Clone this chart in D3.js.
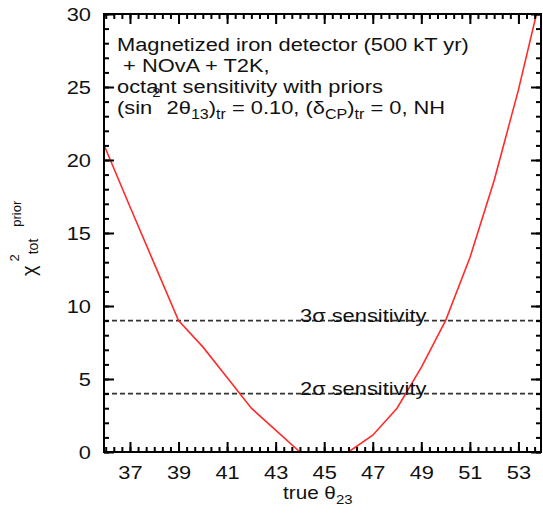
<!DOCTYPE html>
<html>
<head>
<meta charset="utf-8">
<script src="https://cdn.jsdelivr.net/npm/d3@7"></script>
<style>
  body { margin: 0; background: #fff; }
  svg text { font-family: "Liberation Sans", Arial, Helvetica, sans-serif; fill: #111; white-space: pre; }
</style>
</head>
<body>
<svg id="chart" width="543" height="522"></svg>
<script>
// Octant sensitivity curve: chi^2 (with priors) versus true theta23 in degrees
const theta23   = [35, 36, 37, 38, 39, 40, 41, 42, 43, 44, 45, 46, 47, 48, 49, 50, 51, 52, 53, 54];
const chi2Prior = [24.6, 20.75, 16.8, 12.9, 9.0, 7.2, 5.1, 3.0, 1.5, 0, 0, 0, 1.15, 3.0, 5.8, 9.0, 13.3, 18.6, 24.8, 31.8];

// Confidence levels drawn as dashed reference lines
const sigmaLevels = [9, 4];
const sigmaLabels = ["3σ sensitivity", "2σ sensitivity"];

// Axis ticks
const xMajorTicks = [37, 39, 41, 43, 45, 47, 49, 51, 53];
const yMajorTicks = [0, 5, 10, 15, 20, 25, 30];

const svg = d3.select("#chart");
const plot = { left: 104, right: 541, top: 14, bottom: 452 };
const TEXT_STRETCH = 1.15;

const x = d3.scaleLinear().domain([35.93, 53.93]).range([plot.left, plot.right]);
const y = d3.scaleLinear().domain([0, 30]).range([plot.bottom, plot.top]);

const xMinorTicks = d3.range(0, 54).map(k => 36 + k / 3).filter(v => v > x.domain()[0] && v < x.domain()[1]);
const yMinorTicks = d3.range(0, 31);

svg.append("defs").append("clipPath").attr("id", "plotClip")
  .append("rect")
  .attr("x", plot.left).attr("y", plot.top)
  .attr("width", plot.right - plot.left).attr("height", plot.bottom - plot.top);

// Dashed sigma lines
svg.append("g").selectAll("line").data(sigmaLevels).join("line")
  .attr("x1", plot.left).attr("x2", plot.right)
  .attr("y1", d => y(d)).attr("y2", d => y(d))
  .attr("stroke", "#333").attr("stroke-width", 1.8).attr("stroke-dasharray", "5,3");

// Chi^2 curve
const line = d3.line().x((d, i) => x(theta23[i])).y(d => y(d));
svg.append("path")
  .datum(chi2Prior)
  .attr("clip-path", "url(#plotClip)")
  .attr("d", line)
  .attr("fill", "none")
  .attr("stroke", "#ff2b2b")
  .attr("stroke-width", 1.6);

// Axes: ticks drawn inward on all four sides
function styleAxis(g) {
  g.select(".domain").remove();
  g.selectAll(".tick line").attr("stroke", "#000").attr("stroke-width", 2);
}
function addAxis(axis, tx, ty) {
  return svg.append("g").attr("transform", `translate(${tx},${ty})`).call(axis).call(styleAxis);
}

addAxis(d3.axisBottom(x).tickValues(xMinorTicks).tickSize(-5).tickFormat(""), 0, plot.bottom);
addAxis(d3.axisTop(x).tickValues(xMinorTicks).tickSize(-5).tickFormat(""), 0, plot.top);
addAxis(d3.axisLeft(y).tickValues(yMinorTicks).tickSize(-5).tickFormat(""), plot.left, 0);
addAxis(d3.axisRight(y).tickValues(yMinorTicks).tickSize(-5).tickFormat(""), plot.right, 0);

const xAxis = addAxis(d3.axisBottom(x).tickValues(xMajorTicks).tickSize(-10).tickPadding(13.5).tickFormat(d3.format("d")), 0, plot.bottom);
addAxis(d3.axisTop(x).tickValues(xMajorTicks).tickSize(-10).tickFormat(""), 0, plot.top);
const yAxis = addAxis(d3.axisLeft(y).tickValues(yMajorTicks).tickSize(-10).tickPadding(13).tickFormat(d3.format("d")), plot.left, 0);
addAxis(d3.axisRight(y).tickValues(yMajorTicks).tickSize(-10).tickFormat(""), plot.right, 0);

xAxis.selectAll("text")
  .attr("font-size", 19).attr("fill", "#111")
  .attr("transform", `scale(${TEXT_STRETCH},1)`);
yAxis.selectAll("text")
  .attr("font-size", 19).attr("fill", "#111")
  .attr("x", -13 / TEXT_STRETCH)
  .attr("transform", `scale(${TEXT_STRETCH},1)`);

// Plot frame
svg.append("rect")
  .attr("x", plot.left).attr("y", plot.top)
  .attr("width", plot.right - plot.left).attr("height", plot.bottom - plot.top)
  .attr("fill", "none").attr("stroke", "#000").attr("stroke-width", 2);

// Horizontally stretched text placed at (tx, ty)
function stretchedText(tx, ty, size) {
  return svg.append("text")
    .attr("transform", `translate(${tx},${ty}) scale(${TEXT_STRETCH},1)`)
    .attr("font-size", size);
}

// Sigma labels sitting on their lines
sigmaLevels.forEach((lv, i) => {
  stretchedText(300, y(lv) + 1, 19).text(sigmaLabels[i]);
});

// Description block
stretchedText(117, 51, 19).text("Magnetized iron detector (500 kT yr)");
stretchedText(117, 72, 19).text(" + NOvA + T2K,");
stretchedText(117, 93, 19).text("octant sensitivity with priors");
const l4 = stretchedText(117, 114, 19);
const parts = [
  ["(sin", 19, 0], ["2", 13, -17], [" 2θ", 19, 17], ["13", 14, 5], [")", 19, -5],
  ["tr", 14, 5], [" = 0.10, (δ", 19, -5], ["CP", 14, 5], [")", 19, -5],
  ["tr", 14, 5], [" = 0, NH", 19, -5]
];
parts.forEach(([t, fs, dy]) => l4.append("tspan").attr("font-size", fs).attr("dy", dy).text(t));

// x-axis title
const xt = stretchedText(283, 499, 18);
xt.append("tspan").text("true θ");
xt.append("tspan").attr("font-size", 13).attr("dy", 5).text("23");

// y-axis title, rotated
const yt = svg.append("text").attr("transform", "translate(36,276) rotate(-90)").attr("font-size", 20);
yt.append("tspan").text("χ");
yt.append("tspan").attr("font-size", 13).attr("dy", -17).attr("dx", 4).text("2");
yt.append("tspan").attr("font-size", 14).attr("dy", 19).text("tot");
yt.append("tspan").attr("font-size", 13).attr("dy", -17).attr("dx", 12).text("prior");
</script>
</body>
</html>
